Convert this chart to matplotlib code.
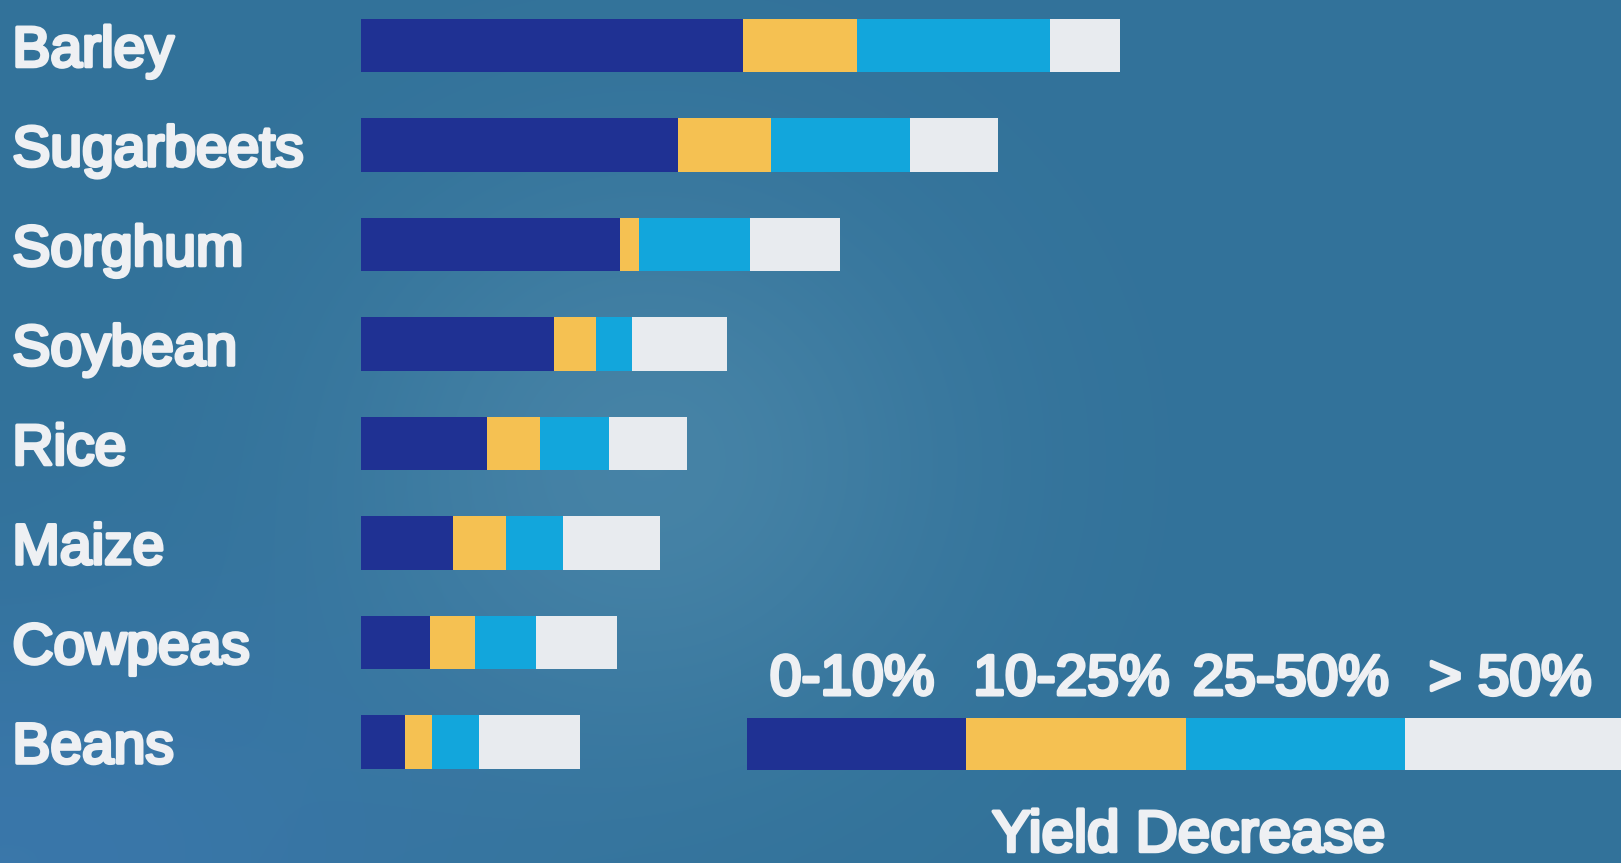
import numpy as np
import matplotlib
matplotlib.use("Agg")
import matplotlib.pyplot as plt
from matplotlib import patheffects, transforms

# Crops, most to least salt tolerant
crops = ["Barley", "Sugarbeets", "Sorghum", "Soybean", "Rice", "Maize", "Cowpeas", "Beans"]

# Salinity span (dS/m) covered by each yield-decrease class
decrease_0_10 = [10.0, 8.3, 6.8, 5.05, 3.3, 2.4, 1.8, 1.15]
decrease_10_25 = [3.0, 2.45, 0.5, 1.1, 1.4, 1.4, 1.2, 0.7]
decrease_25_50 = [5.05, 3.65, 2.9, 0.95, 1.8, 1.5, 1.6, 1.25]
decrease_over_50 = [1.85, 2.3, 2.35, 2.5, 2.05, 2.55, 2.1, 2.65]

class_labels = ["0-10%", "10-25%", "25-50%", "> 50%"]
class_colors = ["#1f3193", "#f5c152", "#12a6dc", "#e8ebef"]
title_text = "Yield Decrease"

W, H, DPI = 1621, 863, 100
fig = plt.figure(figsize=(W / DPI, H / DPI), dpi=DPI)

# Slide background: steel blue with a soft projector glow
bg = fig.add_axes([0, 0, 1, 1])
bg.set_axis_off()
yy, xx = np.mgrid[0:H, 0:W]
base = np.array([50, 114, 154], dtype=float)
glow = np.exp(-(((xx - 650) / 300.0) ** 2 + ((yy - 460) / 280.0) ** 2))
corner = np.exp(-(((xx - 0) / 450.0) ** 2 + ((yy - H) / 260.0) ** 2))
img = base[None, None, :] * np.ones((H, W, 1))
img += glow[..., None] * np.array([20, 17, 12])
img += corner[..., None] * np.array([8, 5, 16])
img = np.clip(img / 255.0, 0, 1)
bg.imshow(img, extent=(0, 1, 0, 1), aspect="auto", origin="upper")
bg.set_xlim(0, 1)
bg.set_ylim(0, 1)

ax = fig.add_axes([0, 0, 1, 1])
ax.patch.set_alpha(0)
ax.set_axis_off()

px_per_unit = 38.15
x0_px = 361.0
row_px = 99.5
first_row_px = 45.5
ax.set_xlim(-x0_px / px_per_unit, (W - x0_px) / px_per_unit)
ax.set_ylim((H - first_row_px) / row_px, -first_row_px / row_px)

y = np.arange(len(crops))
bar_h = 0.54
series = [decrease_0_10, decrease_10_25, decrease_25_50, decrease_over_50]
left = np.zeros(len(crops))
for vals, col in zip(series, class_colors):
    ax.barh(y, vals, left=left, height=bar_h, color=col, edgecolor="none")
    left += np.array(vals)

txt_color = "#eef0f3"
fx = [patheffects.withStroke(linewidth=2.6, foreground=txt_color)]
font = dict(family=["Liberation Sans", "DejaVu Sans"], color=txt_color,
            fontsize=41, path_effects=fx)

# Crop names, centred on their bars
lbl_tr = transforms.offset_copy(ax.get_yaxis_transform(), fig=fig, y=-21, units="dots")
for yi, name in zip(y, crops):
    ax.text(12.4 / W, yi, name, transform=lbl_tr, ha="left", va="baseline", **font)

# Legend bar beside the last row
leg_x0 = 10.12
leg_w = 5.75
leg_y = 7.02
for i, (lab, col) in enumerate(zip(class_labels, class_colors)):
    xs = leg_x0 + i * leg_w
    ax.barh(leg_y, leg_w, left=xs, height=0.52, color=col, edgecolor="none")
    ax.text(xs + leg_w / 2 - 0.12, 6.525, lab, ha="center", va="baseline", **font)

ax.text(21.7, 8.1, title_text, ha="center", va="baseline",
        **{**font, "fontsize": 42})

fig.savefig("out.png", dpi=DPI)
